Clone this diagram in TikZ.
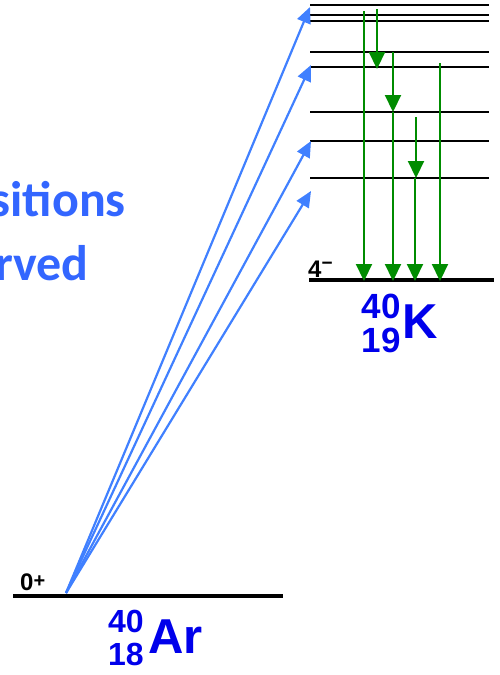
\documentclass[tikz,border=0pt]{standalone}
\usepackage{fontspec}
\newfontfamily\hvfont{Liberation Sans}
\newfontfamily\calfont{Carlito}
\usetikzlibrary{arrows.meta}
\definecolor{txtblue}{RGB}{51,102,255}
\definecolor{arrblue}{RGB}{64,128,255}
\definecolor{nucblue}{RGB}{0,0,235}
\definecolor{grn}{RGB}{0,140,0}
\begin{document}
\begin{tikzpicture}[x=1pt,y=-1pt,
  lvl/.style={line width=2.4pt,black},
  gnd/.style={line width=3.2pt,black},
  garrow/.style={draw=grn,line width=2.2pt,-{Triangle[length=17pt,width=16pt]},fill=grn},
  barrow/.style={draw=arrblue,line width=2.2pt,-{Triangle[length=16pt,width=14pt]},fill=arrblue},
  bigtxt/.style={text=txtblue,font=\calfont\bfseries\fontsize{50}{50}\selectfont,inner sep=0pt},
  nucnum/.style={text=nucblue,inner sep=0pt},
  spin/.style={font=\hvfont\bfseries\fontsize{24}{24}\selectfont,inner sep=0pt}]
\useasboundingbox (0,0) rectangle (499,675);
\clip (0,0) rectangle (499,675);

% K levels
\foreach \y in {5,15,21,52,67,112,141,178}
  \draw[lvl] (310,\y) -- (489,\y);
\draw[gnd] (309,280) -- (494,280);
% Ar level
\draw[gnd] (13,596) -- (283,596);

% coordinates
\coordinate (src) at (66,593);
\coordinate (t1) at (310,7);
\coordinate (t2) at (311,65);
\coordinate (t3) at (311,141);
\coordinate (t4) at (311,191);

\draw[barrow] (src) -- (t1);
\draw[barrow] (src) -- (t2);
\draw[barrow] (src) -- (t3);
\draw[barrow] (src) -- (t4);

% green arrows
\coordinate (g1a) at (364,11);  \coordinate (g1b) at (364,281);
\coordinate (g2a) at (377,9);   \coordinate (g2b) at (377,69);
\coordinate (g3a) at (393,52);  \coordinate (g3b) at (393,112);
\coordinate (g3c) at (393,281);
\coordinate (g4a) at (416,117); \coordinate (g4b) at (416,178);
\coordinate (g4c) at (415,178); \coordinate (g4d) at (415,281);
\coordinate (g5a) at (440,63);  \coordinate (g5b) at (440,281);
\draw[garrow] (g1a) -- (g1b);
\draw[garrow] (g2a) -- (g2b);
\draw[garrow] (g3a) -- (g3b);
\draw[garrow] (g3b) -- (g3c);
\draw[garrow] (g4a) -- (g4b);
\draw[garrow] (g4c) -- (g4d);
\draw[garrow] (g5a) -- (g5b);

% text (cut at the left edge as in the reference)
\node[bigtxt,anchor=base east] (tr) at (126,216) {sitions};
\node[bigtxt,anchor=base east] (ob) at (89,280) {rved};

% spin labels
\node[spin,anchor=base west] (s0) at (20,590) {0\raisebox{3pt}{\fontsize{20}{20}\selectfont +}};
\node[spin,anchor=base west] (s4) at (308,277) {4\raisebox{8pt}{\fontsize{19}{19}\selectfont −}};

% nuclides
\node[nucnum,anchor=base east,font=\hvfont\bfseries\fontsize{32}{32}\selectfont] (ar40) at (144,632) {40};
\node[nucnum,anchor=base east,font=\hvfont\bfseries\fontsize{32}{32}\selectfont] (ar18) at (144,665) {18};
\node[nucnum,anchor=base west,font=\hvfont\bfseries\fontsize{49}{49}\selectfont] (ar) at (148,653) {Ar};
\node[nucnum,anchor=base east,font=\hvfont\bfseries\fontsize{35}{35}\selectfont] (k40) at (401,318) {40};
\node[nucnum,anchor=base east,font=\hvfont\bfseries\fontsize{35}{35}\selectfont] (k19) at (401,352) {19};
\node[nucnum,anchor=base west,font=\hvfont\bfseries\fontsize{49}{49}\selectfont] (kk) at (402,338) {K};
\end{tikzpicture}
\end{document}
